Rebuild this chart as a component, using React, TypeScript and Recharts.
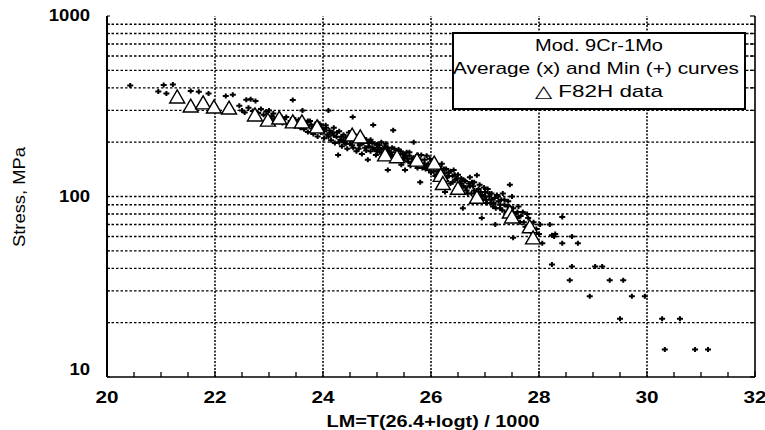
import { ScatterChart, Scatter, XAxis, YAxis, ReferenceLine } from 'recharts';

// ─── Axis ticks / grid ───────────────────────────────────────────────────────

const xLabelTicks = [20, 22, 24, 26, 28, 30, 32];
const xMinorTicks = [
  20, 20.5, 21, 21.5, 22, 22.5, 23, 23.5, 24, 24.5, 25, 25.5, 26, 26.5, 27, 27.5, 28, 28.5, 29,
  29.5, 30, 30.5, 31, 31.5, 32,
];
const yLabelTicks = [10, 100, 1000];
const yMinorTicks = [
  10, 20, 30, 40, 50, 60, 70, 80, 90, 100, 200, 300, 400, 500, 600, 700, 800, 900, 1000,
];
const xGridValues = [22, 24, 26, 28, 30];
const yGridValues = [20, 30, 40, 50, 60, 70, 80, 90, 100, 200, 300, 400, 500, 600, 700, 800, 900];

// ─── Data: [LM, stress MPa] ──────────────────────────────────────────────────

const f82hPoints: [number, number][] = [
  [21.3, 356], [21.55, 317], [21.78, 330], [21.98, 313], [22.26, 309], [22.74, 283],
  [22.98, 265], [23.19, 272], [23.44, 259], [23.61, 259], [23.89, 243], [24.54, 219],
  [24.69, 214], [25.15, 170], [25.37, 166], [25.74, 159], [26.06, 153], [26.18, 131],
  [26.22, 118], [26.5, 111], [26.85, 99], [27.46, 82], [27.5, 77], [27.83, 68], [27.89, 59],
];

const mod9CrPoints: [number, number][] = [
  // sparse upper-left
  [20.43, 412], [20.95, 382], [21.05, 415], [21.1, 372], [21.22, 418], [21.55, 384],
  [21.7, 380], [21.88, 372], [22.2, 360], [22.33, 366], [22.58, 344], [22.66, 346], [22.75, 338],
  // 22.4 - 23.0
  [22.45, 318], [22.5, 300], [22.55, 292], [22.62, 310], [22.7, 298], [22.8, 290], [22.85, 305],
  [22.9, 284], [22.95, 296], [23.0, 300], [23.05, 278],
  // 23.0 - 23.6
  [23.08, 288], [23.1, 270], [23.15, 262], [23.2, 280], [23.25, 255], [23.28, 268], [23.32, 276],
  [23.36, 250], [23.4, 262], [23.44, 343], [23.45, 272], [23.48, 246], [23.5, 258], [23.55, 266],
  [23.58, 240], [23.6, 252], [23.62, 300], [23.65, 236],
  // 23.6 - 24.2
  [23.68, 258], [23.7, 246], [23.72, 228], [23.76, 262], [23.8, 238], [23.82, 222], [23.85, 250],
  [23.88, 232], [23.9, 215], [23.93, 244], [23.96, 226], [24.0, 236], [24.02, 210], [24.05, 248],
  [24.08, 220], [24.1, 300], [24.12, 232], [24.15, 205], [24.18, 226], [24.2, 240], [24.22, 198],
  [23.72, 262], [23.78, 250], [23.84, 240], [23.9, 258], [23.96, 248], [24.02, 230], [24.06, 240],
  [24.1, 214], [24.14, 224], [24.2, 218],
  // 24.2 - 24.7
  [24.25, 214], [24.28, 170], [24.3, 230], [24.32, 206], [24.35, 190], [24.38, 220], [24.4, 200],
  [24.42, 212], [24.45, 184], [24.48, 226], [24.5, 196], [24.52, 208], [24.55, 276], [24.56, 186],
  [24.6, 218], [24.62, 178], [24.65, 200], [24.68, 192], [24.7, 210], [24.72, 172],
  [24.26, 226], [24.3, 200], [24.34, 214], [24.38, 204], [24.42, 196], [24.46, 210], [24.5, 218],
  [24.54, 192], [24.58, 204], [24.62, 214], [24.66, 184], [24.7, 196],
  // 24.7 - 25.4
  [24.75, 198], [24.78, 186], [24.8, 206], [24.83, 160], [24.85, 190], [24.88, 178], [24.9, 200],
  [24.93, 249], [24.95, 182], [24.98, 170], [25.0, 194], [25.02, 186], [25.05, 176], [25.08, 200],
  [25.1, 166], [25.12, 184], [25.15, 190], [25.18, 174], [25.2, 140], [25.22, 180], [25.25, 168],
  [25.28, 186], [25.3, 233], [25.32, 162], [25.35, 176], [25.38, 170],
  [24.76, 210], [24.8, 180], [24.84, 198], [24.88, 206], [24.92, 186], [24.96, 196], [25.0, 178],
  [25.04, 192], [25.08, 182], [25.12, 172], [25.16, 196], [25.2, 186], [25.24, 176], [25.28, 170],
  [25.32, 184],
  // 25.4 - 26.0
  [25.4, 182], [25.42, 160], [25.45, 150], [25.48, 172], [25.5, 164], [25.52, 140], [25.55, 176],
  [25.58, 156], [25.6, 168], [25.62, 148], [25.65, 162], [25.68, 200], [25.7, 154], [25.72, 166],
  [25.75, 144], [25.78, 158], [25.8, 120], [25.82, 170], [25.85, 150], [25.88, 160], [25.9, 142],
  [25.92, 168], [25.95, 152], [25.98, 162],
  [25.36, 164], [25.4, 170], [25.44, 178], [25.48, 158], [25.52, 168], [25.56, 162], [25.6, 176],
  [25.64, 154], [25.68, 164], [25.72, 150], [25.76, 170], [25.8, 160], [25.84, 144], [25.88, 152],
  [25.92, 146],
  // 26.0 - 26.5
  [26.0, 146], [26.02, 158], [26.05, 138], [26.08, 150], [26.1, 132], [26.12, 144], [26.15, 126],
  [26.18, 140], [26.2, 152], [26.22, 120], [26.25, 134], [26.26, 106], [26.28, 142], [26.3, 128],
  [26.33, 136], [26.36, 118], [26.4, 130], [26.42, 140], [26.45, 124], [26.48, 112],
  [25.96, 140], [26.0, 136], [26.04, 148], [26.08, 130], [26.12, 138], [26.16, 146], [26.2, 128],
  [26.24, 142], [26.28, 122], [26.32, 130], [26.36, 138], [26.4, 120],
  // 26.5 - 27.0
  [26.5, 132], [26.53, 120], [26.56, 126], [26.59, 86], [26.6, 114], [26.63, 122], [26.66, 108],
  [26.7, 118], [26.72, 128], [26.75, 104], [26.78, 114], [26.8, 120], [26.82, 98], [26.85, 131],
  [26.88, 110], [26.9, 116], [26.94, 76], [26.95, 102], [26.98, 112],
  [26.44, 132], [26.48, 126], [26.52, 112], [26.56, 118], [26.6, 124], [26.64, 112], [26.68, 104],
  [26.72, 114], [26.76, 120], [26.8, 108], [26.84, 104], [26.88, 100],
  // 27.0 - 27.5
  [27.0, 106], [27.02, 96], [27.05, 110], [27.08, 100], [27.1, 92], [27.12, 104], [27.15, 88],
  [27.18, 98], [27.19, 70], [27.22, 102], [27.25, 94], [27.28, 86], [27.3, 96], [27.33, 104],
  [27.36, 90], [27.4, 82], [27.43, 94], [27.46, 116], [27.48, 86], [27.5, 100],
  [26.92, 106], [26.96, 96], [27.0, 100], [27.04, 92], [27.08, 104], [27.12, 96], [27.16, 92],
  [27.2, 86], [27.24, 100], [27.28, 90], [27.32, 84], [27.36, 96],
  // 27.5 - 28.0
  [27.52, 59], [27.55, 80], [27.6, 76], [27.62, 88], [27.65, 72], [27.7, 82], [27.75, 68],
  [27.8, 76], [27.85, 64], [27.9, 72], [27.95, 66], [28.0, 62], [28.02, 70],
  [27.42, 88], [27.46, 78], [27.52, 86], [27.56, 74], [27.6, 82], [27.66, 78], [27.72, 72],
  [27.78, 80],
  // sparse tail
  [28.06, 55], [28.2, 70], [28.24, 61], [28.28, 60], [28.3, 62], [28.24, 42], [28.43, 77],
  [28.43, 55], [28.57, 34.4], [28.61, 60], [28.61, 41], [28.72, 55], [28.94, 28], [29.04, 41],
  [29.17, 41], [29.31, 34.4], [29.5, 21], [29.56, 34.4], [29.72, 28], [29.96, 28], [30.28, 21],
  [30.33, 14.2], [30.61, 21], [30.89, 14.2], [31.13, 14.2],
];

const legendLines = ['Mod. 9Cr-1Mo', 'Average (x) and Min (+) curves', '\u25B3 F82H data'];

// ─── Styles ──────────────────────────────────────────────────────────────────

const FONT = '"Liberation Sans", Arial, Helvetica, sans-serif';
const W = 765;
const H = 430;

// ─── Markers ─────────────────────────────────────────────────────────────────

function TriangleMarker(props: any) {
  const { cx, cy } = props;
  if (cx == null || cy == null) return null;
  return (
    <path
      d={`M${cx},${cy - 7} L${cx + 7.5},${cy + 6} L${cx - 7.5},${cy + 6} Z`}
      fill="#fff"
      stroke="#000"
      strokeWidth={1.4}
    />
  );
}

function DotMarker(props: any) {
  const { cx, cy } = props;
  if (cx == null || cy == null) return null;
  return (
    <path
      d={`M${cx - 3},${cy} h6 M${cx},${cy - 2.5} v5`}
      stroke="#000"
      strokeWidth={2}
      fill="none"
    />
  );
}

// ─── Ticks ───────────────────────────────────────────────────────────────────

function BottomTick(props: any) {
  const { x, y, payload } = props;
  const v = payload.value;
  const major = xLabelTicks.includes(v);
  const label = String(v);
  return (
    <g>
      <line x1={x} x2={x} y1={y} y2={y - (major ? 6 : 5)} stroke="#000" strokeWidth={1.3} />
      {major && (
        <text
          x={x}
          y={y + 26}
          textAnchor="middle"
          fontFamily={FONT}
          fontWeight="bold"
          fontSize={17}
          fill="#000"
          textLength={label.length * 11.5}
          lengthAdjust="spacingAndGlyphs"
        >
          {label}
        </text>
      )}
    </g>
  );
}

function TopTick(props: any) {
  const { x, y } = props;
  return <line x1={x} x2={x} y1={y} y2={y + 5} stroke="#000" strokeWidth={1.2} />;
}

function LeftTick(props: any) {
  const { x, y, payload } = props;
  const v = payload.value;
  const major = yLabelTicks.includes(v);
  const label = String(v);
  return (
    <g>
      <line x1={x} x2={x + 3} y1={y} y2={y} stroke="#000" strokeWidth={1} />
      {major && (
        <text
          x={x - 17}
          y={v === 10 ? y - 2 : y + 5}
          textAnchor="end"
          fontFamily={FONT}
          fontWeight="bold"
          fontSize={17}
          fill="#000"
          textLength={label.length * 10.3}
          lengthAdjust="spacingAndGlyphs"
        >
          {label}
        </text>
      )}
    </g>
  );
}

function RightTick(props: any) {
  const { x, y } = props;
  return <line x1={x} x2={x - 5} y1={y} y2={y} stroke="#000" strokeWidth={1.2} />;
}

// ─── Chart ───────────────────────────────────────────────────────────────────

export default function App() {
  const modData = mod9CrPoints.map(([lm, stress]) => ({ lm, stress }));
  const f82hData = f82hPoints.map(([lm, stress]) => ({ lm, stress }));

  return (
    <div style={{ position: 'absolute', left: 0, top: 0, width: W, height: H, background: '#fff' }}>
      <ScatterChart width={W} height={H} margin={{ top: 16, right: 9, bottom: 0, left: 0 }}>
        <XAxis
          dataKey="lm"
          type="number"
          domain={[20, 32]}
          allowDataOverflow
          ticks={xMinorTicks}
          interval={0}
          height={53}
          tickSize={0}
          tickMargin={0}
          tickLine={false}
          tick={<BottomTick />}
          axisLine={{ stroke: '#000', strokeWidth: 1.6 }}
        />
        <XAxis
          xAxisId="top"
          orientation="top"
          type="number"
          domain={[20, 32]}
          allowDataOverflow
          ticks={xMinorTicks}
          interval={0}
          height={0}
          tickSize={0}
          tickMargin={0}
          tickLine={false}
          tick={<TopTick />}
          axisLine={{ stroke: '#000', strokeWidth: 1.3 }}
        />
        <YAxis
          dataKey="stress"
          type="number"
          scale="log"
          domain={[10, 1000]}
          allowDataOverflow
          ticks={yMinorTicks}
          interval={0}
          width={107}
          tickSize={0}
          tickMargin={0}
          tickLine={false}
          tick={<LeftTick />}
          axisLine={{ stroke: '#000', strokeWidth: 2 }}
        />
        <YAxis
          yAxisId="right"
          orientation="right"
          type="number"
          scale="log"
          domain={[10, 1000]}
          allowDataOverflow
          ticks={yMinorTicks}
          interval={0}
          width={1}
          tickSize={0}
          tickMargin={0}
          tickLine={false}
          tick={<RightTick />}
          axisLine={{ stroke: '#000', strokeWidth: 1.6 }}
        />
        {yGridValues.map((v) => (
          <ReferenceLine
            key={`h${v}`}
            y={v}
            stroke="#000"
            strokeWidth={1.4}
            strokeDasharray="2.5 2"
            ifOverflow="hidden"
          />
        ))}
        {xGridValues.map((v) => (
          <ReferenceLine
            key={`v${v}`}
            x={v}
            stroke="#000"
            strokeWidth={1.5}
            strokeDasharray="2 1.5"
            ifOverflow="hidden"
          />
        ))}
        <Scatter data={modData} shape={<DotMarker />} isAnimationActive={false} />
        <Scatter data={f82hData} shape={<TriangleMarker />} isAnimationActive={false} />
      </ScatterChart>

      <svg
        width={W}
        height={H}
        style={{ position: 'absolute', left: 0, top: 0, pointerEvents: 'none' }}
      >
        <rect x={453} y={33} width={292} height={76} fill="#fff" stroke="#000" strokeWidth={2} />
        <text x={599} y={51} textAnchor="middle" fill="#000" fontFamily={FONT} fontSize={17} textLength={128} lengthAdjust="spacingAndGlyphs">
          {legendLines[0]}
        </text>
        <text x={596} y={74} textAnchor="middle" fill="#000" fontFamily={FONT} fontSize={17} textLength={286} lengthAdjust="spacingAndGlyphs">
          {legendLines[1]}
        </text>
        <text x={599} y={97} textAnchor="middle" fill="#000" fontFamily={FONT} fontSize={17} textLength={128} lengthAdjust="spacingAndGlyphs">
          {legendLines[2]}
        </text>
        <text
          x={433}
          y={427}
          textAnchor="middle"
          fill="#000"
          fontFamily={FONT}
          fontWeight="bold"
          fontSize={16}
          textLength={213}
          lengthAdjust="spacingAndGlyphs"
        >
          LM=T(26.4+logt) / 1000
        </text>
        <text
          transform="translate(25,197) rotate(-90)"
          textAnchor="middle"
          fill="#000"
          fontFamily={FONT}
          fontSize={16}
          textLength={100}
          lengthAdjust="spacingAndGlyphs"
        >
          Stress, MPa
        </text>
      </svg>
    </div>
  );
}
